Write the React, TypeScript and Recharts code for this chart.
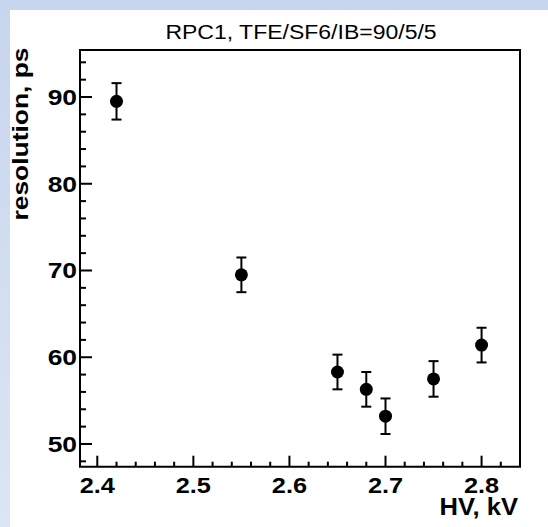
import React from 'react';
import { ScatterChart, Scatter, XAxis, YAxis, ErrorBar, ReferenceArea } from 'recharts';

// HV scan, RPC1 with TFE/SF6/IB = 90/5/5
const hv = [2.42, 2.55, 2.65, 2.68, 2.7, 2.75, 2.8];
const resolution = [89.5, 69.5, 58.3, 56.3, 53.2, 57.5, 61.4];
const resolutionErr = [2.1, 2.0, 2.0, 2.0, 2.05, 2.05, 2.0];

const xTicks = [2.4, 2.42, 2.44, 2.46, 2.48, 2.5, 2.52, 2.54, 2.56, 2.58, 2.6, 2.62, 2.64, 2.66, 2.68, 2.7, 2.72, 2.74, 2.76, 2.78, 2.8, 2.82];
const xMajorTicks = [2.4, 2.5, 2.6, 2.7, 2.8];
const yTicks = [48, 50, 52, 54, 56, 58, 60, 62, 64, 66, 68, 70, 72, 74, 76, 78, 80, 82, 84, 86, 88, 90, 92, 94];
const yMajorTicks = [50, 60, 70, 80, 90];

const xDomain = [2.382, 2.84];
const yDomain = [47.38, 95.42];

const points = hv.map((v, i) => ({ hv: v, res: resolution[i], err: resolutionErr[i] }));

const FONT = '"Liberation Sans", Arial, Helvetica, sans-serif';

const isMajor = (list: number[], v: number) => list.some(m => Math.abs(m - v) < 1e-6);

// tick marks sit on the frame edges and point inward (ROOT style)
const xTickMarks = xTicks.map(v => ({ hv: v, res: yDomain[0], major: isMajor(xMajorTicks, v) }));
const yTickMarks = yTicks.map(v => ({ hv: xDomain[0], res: v, major: isMajor(yMajorTicks, v) }));

function XTick(props: any) {
  const { x, y, payload } = props;
  if (!isMajor(xMajorTicks, payload.value)) return <g />;
  return (
    <text
      transform={`translate(${x},${y + 26.5}) scale(1.15,1)`}
      textAnchor="middle"
      fontFamily={FONT}
      fontWeight="bold"
      fontSize={22}
      fill="#000"
    >
      {payload.value.toFixed(1)}
    </text>
  );
}

function YTick(props: any) {
  const { x, y, payload } = props;
  if (!isMajor(yMajorTicks, payload.value)) return <g />;
  return (
    <text
      transform={`translate(${x - 3},${y + 8}) scale(1.2,1)`}
      textAnchor="end"
      fontFamily={FONT}
      fontWeight="bold"
      fontSize={22}
      fill="#000"
    >
      {payload.value}
    </text>
  );
}

const Dot = (p: any) => <circle cx={p.cx} cy={p.cy} r={6.5} fill="#000" />;

const XMark = (p: any) => {
  const len = p.payload && p.payload.major ? 11 : 5;
  return <rect x={p.cx - 1} y={p.cy - len} width={2} height={len} fill="#000" />;
};

const YMark = (p: any) => {
  const len = p.payload && p.payload.major ? 12 : 6;
  return <rect x={p.cx} y={p.cy - 1} width={len} height={2} fill="#000" />;
};

export default function App() {
  return (
    <div
      style={{
        position: 'fixed',
        left: 0,
        top: 0,
        width: 548,
        height: 527,
        background: 'linear-gradient(to bottom, #c7d5ee, #dce5f3)',
        overflow: 'hidden',
      }}
    >
      <div style={{ position: 'absolute', left: 10, top: 10, width: 538, height: 517, background: '#fff' }} />

      <div
        style={{
          position: 'absolute',
          left: 301,
          top: 32,
          transform: 'translate(-50%, -50%) scaleX(1.15)',
          fontFamily: FONT,
          fontSize: 20,
          lineHeight: 1,
          whiteSpace: 'nowrap',
          color: '#000',
        }}
      >
        RPC1, TFE/SF6/IB=90/5/5
      </div>

      <div
        style={{
          position: 'absolute',
          left: 21,
          top: 134,
          transform: 'translate(-50%, -50%) rotate(-90deg) scaleX(1.2)',
          fontFamily: FONT,
          fontWeight: 'bold',
          fontSize: 22,
          lineHeight: 1,
          whiteSpace: 'nowrap',
          color: '#000',
        }}
      >
        resolution, ps
      </div>

      <div
        style={{
          position: 'absolute',
          left: 518,
          top: 506.5,
          transform: 'translate(-100%, -50%) scaleX(1.11)',
          transformOrigin: 'right center',
          fontFamily: FONT,
          fontWeight: 'bold',
          fontSize: 23,
          lineHeight: 1,
          whiteSpace: 'nowrap',
          color: '#000',
        }}
      >
        HV, kV
      </div>

      <div style={{ position: 'absolute', left: 0, top: 0 }}>
        <ScatterChart width={548} height={527} margin={{ top: 50, right: 28, bottom: 10.3, left: 10 }}>
          <XAxis
            type="number"
            dataKey="hv"
            domain={xDomain}
            ticks={xTicks}
            interval={0}
            allowDataOverflow
            height={50}
            axisLine={false}
            tickLine={false}
            tickSize={0}
            tickMargin={0}
            tick={XTick}
          />
          <YAxis
            type="number"
            dataKey="res"
            domain={yDomain}
            ticks={yTicks}
            interval={0}
            allowDataOverflow
            width={70}
            axisLine={false}
            tickLine={false}
            tickSize={0}
            tickMargin={0}
            tick={YTick}
          />
          <ReferenceArea
            x1={xDomain[0]}
            x2={xDomain[1]}
            y1={yDomain[0]}
            y2={yDomain[1]}
            fill="none"
            stroke="#000"
            strokeWidth={2}
            ifOverflow="visible"
          />
          <Scatter data={xTickMarks} dataKey="res" shape={XMark} isAnimationActive={false} />
          <Scatter data={yTickMarks} dataKey="res" shape={YMark} isAnimationActive={false} />
          <Scatter data={points} dataKey="res" shape={Dot} isAnimationActive={false}>
            <ErrorBar dataKey="err" direction="y" width={5} strokeWidth={2} stroke="#000" isAnimationActive={false} />
          </Scatter>
        </ScatterChart>
      </div>
    </div>
  );
}
